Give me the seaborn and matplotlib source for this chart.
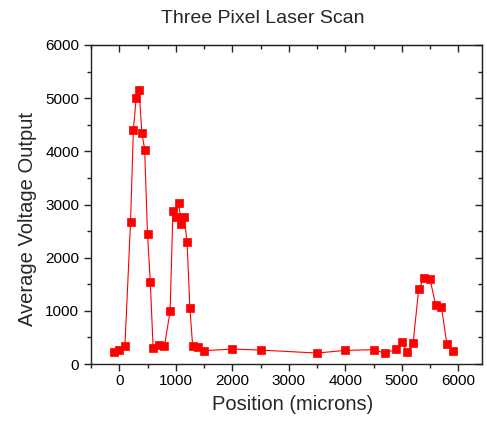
import matplotlib
matplotlib.use("Agg")
import matplotlib.pyplot as plt
from matplotlib.ticker import MultipleLocator
import seaborn as sns
import pandas as pd

position = [-100, 0, 100, 200, 250, 300, 350, 400, 450, 500, 550, 600, 700, 800,
            900, 950, 1000, 1050, 1100, 1150, 1200, 1250, 1300, 1400, 1500,
            2000, 2500, 3500, 4000, 4500, 4700, 4900, 5000, 5100, 5200, 5300,
            5400, 5500, 5600, 5700, 5800, 5900]
voltage = [230, 262, 331, 2662, 4400, 5012, 5150, 4350, 4031, 2437, 1537, 293, 350, 337,
           993, 2881, 2762, 3025, 2637, 2756, 2294, 1050, 331, 312, 250,
           281, 262, 206, 256, 269, 206, 275, 406, 225, 387, 1412,
           1625, 1594, 1112, 1081, 369, 250]

title = "Three Pixel Laser Scan"
xlabel = "Position (microns)"
ylabel = "Average Voltage Output"

sns.set_style("ticks")
plt.rcParams['font.family'] = ['Liberation Sans', 'DejaVu Sans']

df = pd.DataFrame({"Position": position, "Voltage": voltage})

fig = plt.figure(figsize=(4.87, 4.26), dpi=100)
ax = fig.add_axes([91/487, 1-364/426, (482-91)/487, (364-45)/426])

sns.lineplot(data=df, x="Position", y="Voltage", ax=ax, color="#ff0000",
             marker="s", markersize=5.4, markeredgecolor="#ff0000",
             markeredgewidth=0.5, linewidth=0.8, sort=False)

ax.set_xlim(-500, 6420)
ax.set_ylim(0, 6000)
ax.xaxis.set_major_locator(MultipleLocator(1000))
ax.xaxis.set_minor_locator(MultipleLocator(500))
ax.yaxis.set_major_locator(MultipleLocator(1000))
ax.yaxis.set_minor_locator(MultipleLocator(500))

for s in ax.spines.values():
    s.set_visible(True)
    s.set_color("#222222")
    s.set_linewidth(1.0)

ax.tick_params(which="major", direction="out", length=5, width=1.0,
               labelsize=11, color="#222222", labelcolor="black")
ax.tick_params(axis="x", which="major", pad=2)
ax.tick_params(axis="y", which="major", pad=3.5)
ax.tick_params(which="minor", direction="out", length=3, width=1.0, color="#222222")

secx = ax.secondary_xaxis("top")
secx.xaxis.set_major_locator(MultipleLocator(1000))
secx.xaxis.set_minor_locator(MultipleLocator(500))
secx.tick_params(which="major", direction="in", length=5, width=1.0, labeltop=False, color="#222222")
secx.tick_params(which="minor", direction="in", length=3, width=1.0, color="#222222")
secx.spines["top"].set_color("#222222")

secy = ax.secondary_yaxis("right")
secy.yaxis.set_major_locator(MultipleLocator(1000))
secy.yaxis.set_minor_locator(MultipleLocator(500))
secy.tick_params(which="major", direction="in", length=5, width=1.0, labelright=False, color="#222222")
secy.tick_params(which="minor", direction="in", length=3, width=1.0, color="#222222")
secy.spines["right"].set_color("#222222")

ax.set_xlabel(xlabel, fontsize=14.5)
ax.set_ylabel(ylabel, fontsize=14.5)
ax.xaxis.set_label_coords((292.5-91)/391, -0.097)
ax.yaxis.set_label_coords(-0.137, (364-218.5)/319)
ax.set_title(title, fontsize=14, pad=16, x=(263-91)/391)

fig.savefig("out.png", dpi=100)
